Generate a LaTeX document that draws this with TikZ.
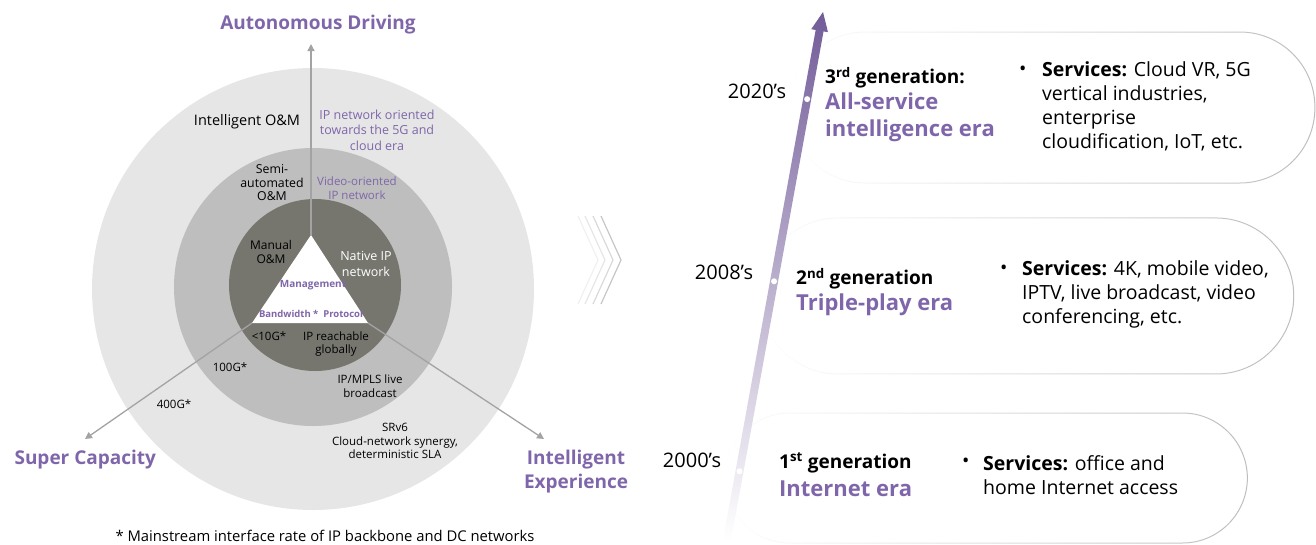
\documentclass[tikz,border=0pt]{standalone}
\usepackage{fontspec}
\setmainfont{Open Sans}
\usepackage{xcolor}
\usepackage{tikz}
\usetikzlibrary{calc}
\usetikzlibrary{arrows.meta}
\usetikzlibrary{fadings}

\definecolor{ringout}{HTML}{E6E6E6}
\definecolor{ringmid}{HTML}{BEBEBE}
\definecolor{ringin}{HTML}{76766F}
\definecolor{lila}{HTML}{7F66AA}
\definecolor{axisgray}{HTML}{A3A3A3}
\definecolor{boxgray}{HTML}{BDBDBD}

\tikzset{
  ring/.style={circle, inner sep=0pt, draw=none},
  headlbl/.style={text=lila, font=\fontsize{19}{24}\selectfont\bfseries},
  ringlbl/.style={align=center, inner sep=0pt, font=\fontsize{11.5}{13.5}\selectfont},
  lilalbl/.style={ringlbl, text=lila},
  axisline/.style={axisgray, line width=1.3pt, -{Triangle[length=7pt,width=7pt]}},
  genlbl/.style={anchor=west, inner sep=0pt, font=\fontsize{19}{22}\selectfont\bfseries},
  eralbl/.style={anchor=west, align=left, inner sep=0pt, text=lila, font=\fontsize{22}{27}\selectfont\bfseries},
  yearlbl/.style={inner sep=0pt, font=\fontsize{20}{22}\selectfont},
  svclbl/.style={anchor=west, align=left, inner sep=0pt, font=\fontsize{19.5}{24}\selectfont},
  erabox/.style={boxgray, line width=1pt, path fading=west},
}

\begin{document}
\begin{tikzpicture}[x=1pt,y=-1pt]
        \useasboundingbox (0,0) rectangle (1316,544);

        %RINGS
        \node[ring, fill=ringout, minimum size=442pt] (outer) at (313,289) {};
        \node[ring, fill=ringmid, minimum size=278pt] (middle) at (313,287) {};
        \node[ring, fill=ringin, minimum size=172pt] (inner) at (315,285) {};

        %TRIANGLE
        \coordinate (apex) at (311,235);
        \coordinate (bl) at (252,323);
        \coordinate (br) at (368,323);
        \fill[white] (apex) -- (bl) -- (br) -- cycle;

        %AXES
        \coordinate (tipN) at (311,44);
        \coordinate (tipW) at (85,439);
        \coordinate (tipE) at (544,439);
        \draw[axisline] (apex) -- (tipN);
        \draw[axisline] (bl) -- (tipW);
        \draw[axisline] (br) -- (tipE);

        %GOALS
        \node[headlbl] (drive) at (318,25) {Autonomous Driving};
        \node[headlbl, anchor=west] (capa) at (11,460) {Super Capacity};
        \node[headlbl, align=center] (expe) at (576,472) {Intelligent\\Experience};

        %RING LABELS
        \node[ringlbl, font=\fontsize{14.5}{16}\selectfont] (om3) at (247,122) {Intelligent O\&M};
        \node[lilalbl, font=\fontsize{12.5}{15.5}\selectfont] (net3) at (377,130) {IP network oriented\\towards the 5G and\\cloud era};
        \node[ringlbl, font=\fontsize{12.3}{13.5}\selectfont] (om2) at (272,183) {Semi-\\automated\\O\&M};
        \node[lilalbl] (net2) at (357,188) {Video-oriented\\IP network};
        \node[ringlbl, font=\fontsize{12}{13.5}\selectfont] (om1) at (271,252) {Manual\\O\&M};
        \node[ringlbl, text=white, font=\fontsize{12.5}{15.5}\selectfont] (net1) at (366,264) {Native IP\\network};
        \node[lilalbl, font=\fontsize{10}{11}\selectfont\bfseries] (mgmt) at (313,285) {Management};
        \node[lilalbl, font=\fontsize{9.5}{11}\selectfont\bfseries] (bwpr) at (311,314) {Bandwidth *\ \ Protocol};
        \node[ringlbl] (bw1) at (269,336) {<10G*};
        \node[ringlbl] (ipr1) at (336,344) {IP reachable\\globally};
        \node[ringlbl] (bw2) at (230,367) {100G*};
        \node[ringlbl] (ipr2) at (370,386) {IP/MPLS live\\broadcast};
        \node[ringlbl] (bw3) at (174,404) {400G*};
        \node[ringlbl] (ipr3) at (395,441) {SRv6\\Cloud-network synergy,\\deterministic SLA};

        %FOOTNOTE
        \node[font=\fontsize{14.8}{17}\selectfont] (note) at (325,536) {* Mainstream interface rate of IP backbone and DC networks};

        %CHEVRONS
        \foreach \tx/\op in {598/0.12, 605/0.2, 613/0.3, 621/0.45}
            \draw[gray, opacity=\op, line width=1.2pt] (\tx-20,216) -- (\tx,260) -- (\tx-20,304);

        %ERA BOXES
        \draw[erabox, rounded corners=75pt] (790,32) rectangle (1315,183);
        \draw[erabox, rounded corners=78pt] (760,218) rectangle (1294,374);
        \draw[erabox, rounded corners=65pt] (725,413) rectangle (1248,543);

        %TIMELINE
        \coordinate (tbot) at (727,540);
        \coordinate (ttop) at (823,12);
        \coordinate (hbase) at ($(ttop)!19pt!(tbot)$);
        \shade[top color=lila!90!black, bottom color=white]
            ($(tbot)!4pt!90:(ttop)$) -- ($(hbase)!4pt!-90:(tbot)$) -- ($(hbase)!8.5pt!-90:(tbot)$)
            -- (ttop) -- ($(hbase)!8.5pt!90:(tbot)$) -- ($(hbase)!4pt!90:(tbot)$)
            -- ($(tbot)!4pt!-90:(ttop)$) -- cycle;
        \coordinate (dot3) at ($(tbot)!0.835!(ttop)$);
        \coordinate (dot2) at ($(tbot)!0.49!(ttop)$);
        \coordinate (dot1) at ($(tbot)!0.13!(ttop)$);
        \foreach \d in {dot1,dot2,dot3}
            \fill[white] (\d) circle (3);

        %YEARS
        \node[yearlbl] (y3) at (757,91) {2020’s};
        \node[yearlbl] (y2) at (724,272) {2008’s};
        \node[yearlbl] (y1) at (692,460) {2000’s};

        %GENERATIONS
        \node[genlbl] (gen3) at (825,78) {3\textsuperscript{rd} generation:};
        \node[eralbl] (era3) at (825,117.5) {All-service\\intelligence era};
        \node[genlbl] (gen2) at (796,279) {2\textsuperscript{nd} generation};
        \node[eralbl] (era2) at (796,305) {Triple-play era};
        \node[genlbl] (gen1) at (779,463) {1\textsuperscript{st} generation};
        \node[eralbl] (era1) at (779,489) {Internet era};

        %SERVICES
        \node[svclbl] (b3) at (1019,71) {\textbullet};
        \node[svclbl] (s3) at (1042,106.5) {\textbf{Services:} Cloud VR, 5G\\vertical industries,\\enterprise\\cloudification, IoT, etc.};
        \node[svclbl] (b2) at (1000,270) {\textbullet};
        \node[svclbl] (s2) at (1022,294) {\textbf{Services:} 4K, mobile video,\\IPTV, live broadcast, video\\conferencing, etc.};
        \node[svclbl] (b1) at (962,463) {\textbullet};
        \node[svclbl] (s1) at (983,475.5) {\textbf{Services:} office and\\home Internet access};
\end{tikzpicture}
\end{document}
